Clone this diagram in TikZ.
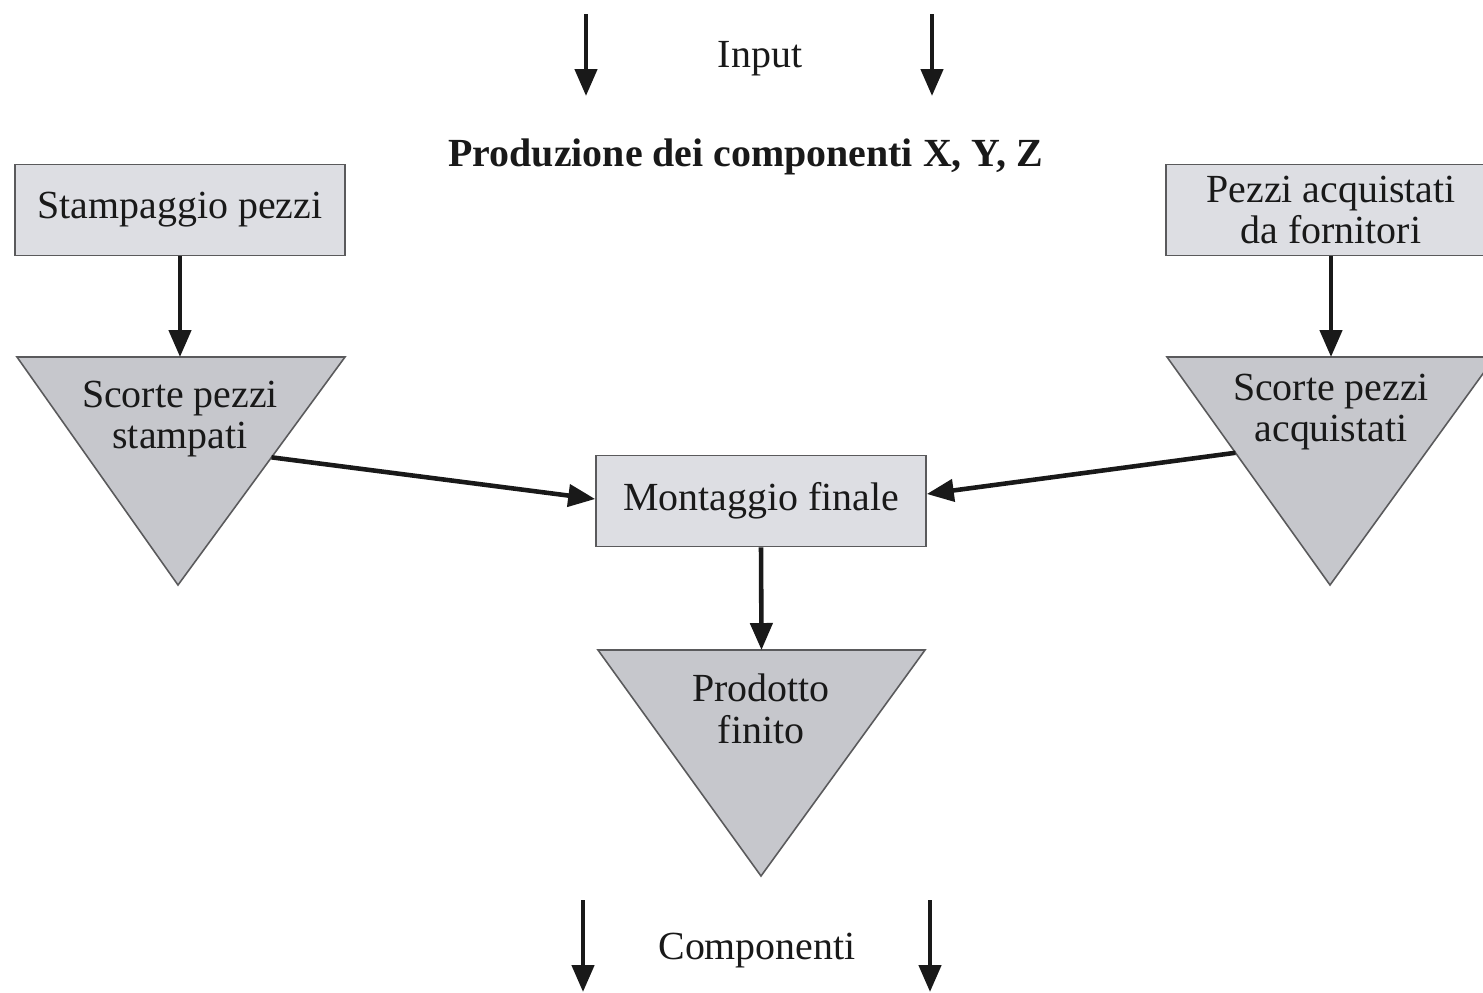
\documentclass[tikz,border=0pt]{standalone}
\usepackage{fontspec}
\setmainfont{Liberation Serif}
\usetikzlibrary{arrows.meta,calc}
\definecolor{boxfill}{RGB}{221,222,227}
\definecolor{trifill}{RGB}{198,199,204}
\definecolor{edgegray}{RGB}{90,90,92}
\definecolor{ink}{RGB}{25,25,25}
\tikzset{
  procbox/.style={draw=edgegray, line width=0.9pt, fill=boxfill, inner sep=0pt,
    minimum width=330*0.02cm, minimum height=91*0.02cm, align=center, text=ink},
  tri/.style={draw=edgegray, line width=0.9pt, fill=trifill},
  label/.style={align=center, text=ink, inner sep=0pt},
  flow/.style={draw=ink, line width=2.6pt, -{Triangle[length=0.54cm,width=0.44cm]}},
}
\begin{document}
\begin{tikzpicture}[x=0.02cm, y=-0.02cm, font=\fontsize{22.7}{23.6}\selectfont]
\useasboundingbox (0,0) rectangle (1483,992);
\clip (0,0) rectangle (1483,992);
\fill[white] (0,0) rectangle (1483,992);

% header and footer labels
\node[label] (input) at (760,59) {Input};
\node[label, font=\fontsize{22.7}{23.6}\selectfont\bfseries] (prod) at (746,157) {Produzione dei componenti X, Y, Z};
\node[label] (comp) at (757,951) {Componenti};

% process boxes
\node[procbox] (stamp) at (180,210) {\raisebox{-2pt}{Stampaggio pezzi}};
\node[procbox] (acq) at (1331,210) {Pezzi acquistati\\da fornitori};
\node[procbox] (mont) at (761,501) {\raisebox{-2pt}{Montaggio finale}};

% stock triangles (point down)
\coordinate (La) at (17,357);  \coordinate (Lb) at (345,357);  \coordinate (Lc) at (178,585);
\coordinate (Ra) at (1167,357); \coordinate (Rb) at (1495,357); \coordinate (Rc) at (1330,585);
\coordinate (Pa) at (598,650);  \coordinate (Pb) at (925,650);  \coordinate (Pc) at (761,876);
\draw[tri] (La) -- (Lb) -- (Lc) -- cycle;
\draw[tri] (Ra) -- (Rb) -- (Rc) -- cycle;
\draw[tri] (Pa) -- (Pb) -- (Pc) -- cycle;
\node[label] (scL) at (180,419) {Scorte pezzi\\stampati};
\node[label] (scR) at (1331,412) {Scorte pezzi\\acquistati};
\node[label] (pf) at (761,709) {Prodotto\\finito};

% connection points on the triangles
\coordinate (Ltop) at ($(La)!0.5!(Lb)$);
\coordinate (Rtop) at ($(Ra)!0.5!(Rb)$);
\coordinate (Ptop) at ($(Pa)!0.5!(Pb)$);
\coordinate (Lout) at ($(Lb)!0.44!(Lc)$);
\coordinate (Rout) at ($(Ra)!0.42!(Rc)$);

% flows
\draw[flow] (stamp.south) -- (stamp.south |- Ltop);
\draw[flow] (acq.south) -- (acq.south |- Rtop);
\draw[flow] (Lout) -- ([yshift=0.04cm]mont.west);
\draw[flow] (Rout) -- ([yshift=0.14cm]mont.east);
\draw[flow] (mont.south) -- (Ptop);

% input and output arrows
\coordinate (in1a) at (586,14);  \coordinate (in1b) at (586,96);
\coordinate (in2a) at (932,14);  \coordinate (in2b) at (932,96);
\coordinate (out1a) at (583,900); \coordinate (out1b) at (583,992);
\coordinate (out2a) at (930,900); \coordinate (out2b) at (930,992);
\draw[flow] (in1a) -- (in1b);
\draw[flow] (in2a) -- (in2b);
\draw[flow] (out1a) -- (out1b);
\draw[flow] (out2a) -- (out2b);
\end{tikzpicture}
\end{document}
